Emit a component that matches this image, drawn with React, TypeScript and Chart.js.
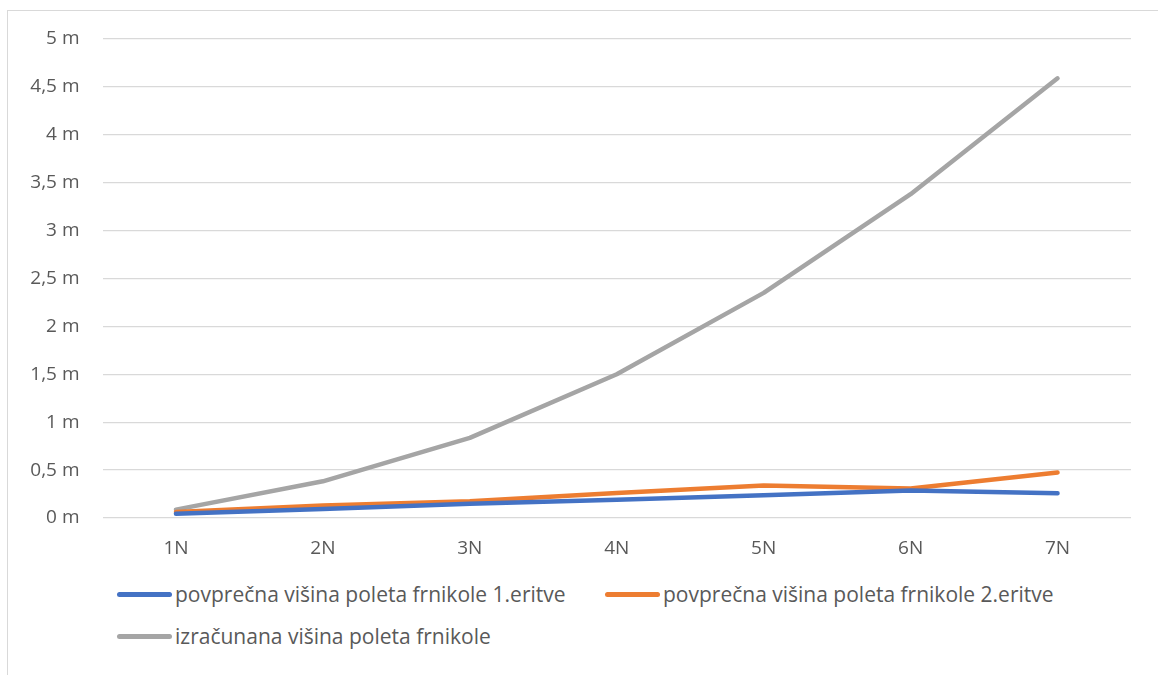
import React, { useEffect, useRef } from "react";
import { Chart, registerables } from "chart.js";

Chart.register(...registerables);

// Throw strength categories
const categories = ["1N", "2N", "3N", "4N", "5N", "6N", "7N"];

// Average flight height, first measurement (m)
const measured1 = [0.045, 0.094, 0.15, 0.19, 0.237, 0.286, 0.258];
// Average flight height, second measurement (m)
const measured2 = [0.063, 0.13, 0.174, 0.26, 0.34, 0.307, 0.474];
// Calculated flight height (m)
const calculated = [0.087, 0.383, 0.836, 1.5, 2.35, 3.38, 4.59];

const seriesLabels = [
  "povprečna višina poleta frnikole 1.eritve",
  "povprečna višina poleta frnikole 2.eritve",
  "izračunana višina poleta frnikole",
];
const seriesColors = ["#4472C4", "#ED7D31", "#A5A5A5"];

const FONT = "'Open Sans', 'Noto Sans', sans-serif";
const TEXT = "#595959";

export default function App() {
  const canvasRef = useRef<HTMLCanvasElement | null>(null);

  useEffect(() => {
    if (!canvasRef.current) return;
    const values = [measured1, measured2, calculated];
    const chart = new Chart(canvasRef.current, {
      type: "line",
      data: {
        labels: categories,
        datasets: values.map((v, i) => ({
          label: seriesLabels[i],
          data: v,
          borderColor: seriesColors[i],
          backgroundColor: seriesColors[i],
          borderWidth: 4.5,
          pointRadius: 0,
          borderCapStyle: "round" as const,
          borderJoinStyle: "round" as const,
          tension: 0,
        })),
      },
      options: {
        animation: false,
        responsive: false,
        maintainAspectRatio: false,
        layout: { padding: { top: 28, right: 27, bottom: 0, left: 0 } },
        plugins: {
          legend: { display: false },
          tooltip: { enabled: false },
        },
        scales: {
          x: {
            offset: true,
            grid: { display: false, drawTicks: false },
            border: { display: false },
            ticks: {
              color: TEXT,
              font: { family: FONT, size: 19 },
              padding: 19,
              maxRotation: 0,
            },
            afterFit: (scale: any) => {
              scale.height = 50;
            },
          },
          y: {
            min: 0,
            max: 5,
            grid: { color: "#d9d9d9", lineWidth: 1.3, drawTicks: false },
            border: { display: false },
            ticks: {
              stepSize: 0.5,
              color: TEXT,
              font: { family: FONT, size: 19 },
              padding: 23,
              callback: (v: any) => String(v).replace(".", ",") + " m",
            },
            afterFit: (scale: any) => {
              scale.width = 94.5;
              // the layout padding alone decides the plot's top edge
              scale.paddingTop = 0;
              scale.paddingBottom = 0;
            },
          },
        },
      },
    });
    return () => chart.destroy();
  }, []);

  return (
    <div
      style={{
        position: "absolute",
        left: 7,
        top: 10,
        width: 1200,
        height: 720,
        border: "1.5px solid #d9d9d9",
        boxSizing: "border-box",
        background: "#fff",
        fontFamily: FONT,
      }}
    >
      <canvas ref={canvasRef} width={1150} height={557} style={{ display: "block" }} />
      <div
        style={{
          marginTop: 5,
          paddingLeft: 109,
          width: 1000,
          display: "flex",
          flexWrap: "wrap",
        }}
      >
        {seriesLabels.map((label, i) => (
          <div
            key={label}
            style={{
              width: 488,
              height: 42,
              display: "flex",
              alignItems: "center",
              color: TEXT,
              fontSize: 21,
              whiteSpace: "nowrap",
            }}
          >
            <span
              style={{
                display: "inline-block",
                width: 55,
                height: 5,
                borderRadius: 3,
                background: seriesColors[i],
                marginRight: 3,
                flexShrink: 0,
              }}
            />
            <span>{label}</span>
          </div>
        ))}
      </div>
    </div>
  );
}
